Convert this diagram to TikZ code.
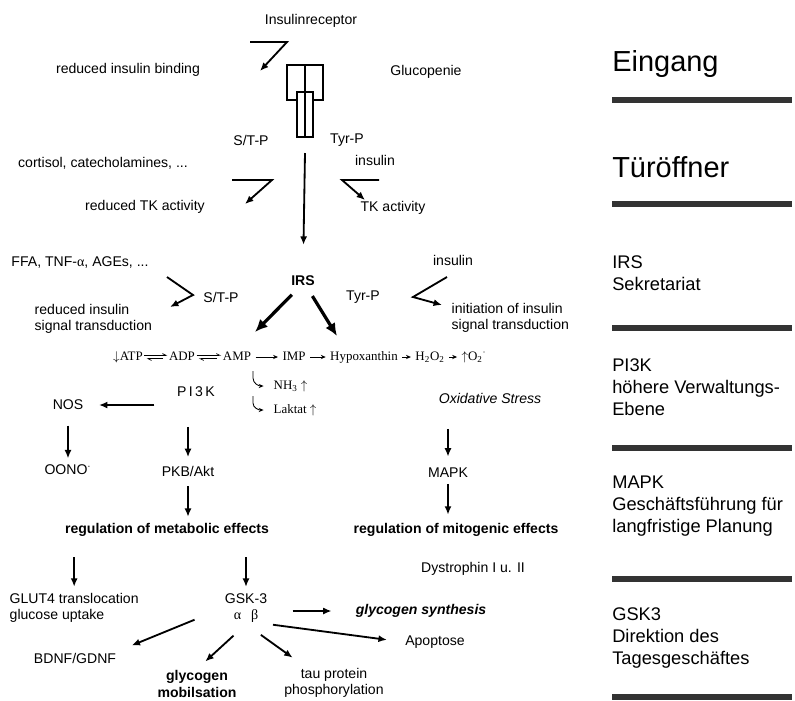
\documentclass[tikz,border=0pt]{standalone}
\usepackage{fontspec}
\setmainfont{Liberation Sans}
\newfontfamily\serifchem{Liberation Serif}
\usetikzlibrary{arrows.meta}
\begin{document}
\begin{tikzpicture}[x=0.025cm,y=-0.025cm,>={Latex[length=6pt,width=5pt]},
  lbl/.style={inner sep=1pt,font=\fontsize{10}{11.5}\selectfont},
  blbl/.style={inner sep=1pt,font=\fontsize{10}{11.5}\selectfont\bfseries},
  chem/.style={inner sep=1pt,text height=6.5pt,text depth=1.5pt,font=\serifchem\fontsize{9.2}{11}\selectfont},
  level/.style={anchor=base west,inner sep=0pt,font=\fontsize{20.6}{24}\selectfont},
  task/.style={anchor=base west,inner sep=0pt,align=left,font=\fontsize{13}{15.6}\selectfont},
  bar/.style={line width=4.6pt,draw=black!80},
  arr/.style={->,line width=1.3pt},
  fat/.style={-{Latex[length=9pt,width=8pt]},line width=2.3pt},
  rxn/.style={-{Stealth[length=3.5pt,width=3pt]},line width=0.6pt},
  harp/.style={-{Straight Barb[left,length=2.5pt,width=2.5pt]},line width=0.5pt}]
\useasboundingbox (0,0) rectangle (795,700);
% levels on the right (base = last line)
\node[level] (eing) at (612,71) {Eingang};
\node[level] (tuer) at (612,177) {Türöffner};
\node[task] (sekr) at (612,290) {IRS\\Sekretariat};
\node[task] (verw) at (612,415) {PI3K\\höhere Verwaltungs-\\Ebene};
\node[task] (gesch) at (612,532) {MAPK\\Geschäftsführung für\\langfristige Planung};
\node[task] (dir) at (612,664) {GSK3\\Direktion des\\Tagesgeschäftes};
\foreach \y in {100,204,328,448,579,697} \draw[bar] (612,\y) -- (792,\y);
% receptor
\node[lbl] (rec) at (311,21) {Insulinreceptor};
\draw[line width=1.4pt] (297,100) -| (287,65) -| (323,100) -- (313,100)
  (297,92) rectangle (313,137) (305,65) -- (305,137);
\coordinate (recout) at (305,153);
\node[lbl] (rib) at (128,70) {reduced insulin binding};
\node[lbl] (gluc) at (426,72) {Glucopenie};
\draw[arr] (250,42) -- (287,42) -- (260,71);
\node[lbl] (stp1) at (251,140) {S/T-P};
\node[lbl] (tyr1) at (347,140) {Tyr-P};
\node[lbl] (cort) at (103,163) {cortisol, catecholamines, ...};
\node[lbl] (ins1) at (375,160) {insulin};
\draw[arr] (232,180) -- (272,180) -- (245,204);
\draw[arr] (379,180) -- (342,180) -- (365,200);
\node[lbl] (rtk) at (145,207) {reduced TK activity};
\node[lbl] (tk) at (393,208) {TK activity};
% IRS
\node[blbl] (irs) at (303,281) {IRS};
\draw[arr,shorten >=21pt] (recout) -- (irs.north);
\node[lbl] (ffa) at (80,262) {FFA, TNF-{\serifchem α}, AGEs, ...};
\draw[arr] (167,277) -- (193,295) -- (170,307);
\node[lbl] (stp2) at (221,297) {S/T-P};
\node[lbl,align=left,anchor=west] (risd) at (33,319) {reduced insulin\\signal transduction};
\node[lbl] (tyr2) at (363,297) {Tyr-P};
\node[lbl] (ins2) at (453,260) {insulin};
\draw[arr] (447,277) -- (413,297) -- (442,305);
\node[lbl,align=left,anchor=west] (iisd) at (450,318) {initiation of insulin\\signal transduction};
\coordinate (fl) at (255,332);
\coordinate (fr) at (337,336);
\draw[fat,shorten <=7pt] ([xshift=-3pt]irs.south) -- (fl);
\draw[fat,shorten <=7pt] ([xshift=3pt]irs.south) -- (fr);
% energy metabolism
\node[chem] (atp) at (128,357) {$\downarrow$ATP};
\node[chem] (adp) at (182,357) {ADP};
\node[chem] (amp) at (237,357) {AMP};
\node[chem] (imp) at (294,357) {IMP};
\node[chem] (hyp) at (364,357) {Hypoxanthin};
\node[chem] (hoo) at (430,357) {H\textsubscript{2}O\textsubscript{2}};
\node[chem] (oxy) at (474,357) {$\uparrow$O\textsubscript{2}\textsuperscript{·}};
\foreach \a/\b in {atp/adp,adp/amp}{
  \draw[harp] ([yshift=1.2pt]\a.east) -- ([yshift=1.2pt]\b.west);
  \draw[harp,shorten >=1.5pt,shorten <=3pt] ([yshift=-1.2pt]\b.west) -- ([yshift=-1.2pt]\a.east);}
\foreach \a/\b in {amp/imp,imp/hyp,hyp/hoo,hoo/oxy} \draw[rxn,shorten <=2pt,shorten >=2pt] (\a) -- (\b);
\node[chem,anchor=west] (nh3) at (272,386) {NH\textsubscript{3} $\uparrow$};
\node[chem,anchor=west] (lak) at (272,410) {Laktat $\uparrow$};
\coordinate (hk1) at (253,371);
\coordinate (hk2) at (253,396);
\draw[rxn] (hk1) -- ++(0,7) to[out=-90,in=180] ([xshift=-6pt]nh3.west);
\draw[rxn] (hk2) -- ++(0,7) to[out=-90,in=180] ([xshift=-6pt]lak.west);
% PI3K branch
\node[lbl] (pi3k) at (196,392) {P\,I\,3\,K};
\node[lbl] (nos) at (68,405) {NOS};
\node[lbl] (oono) at (68,470) {OONO\textsuperscript{·}};
\node[lbl] (pkb) at (188,471) {PKB/Akt};
\node[blbl] (regmet) at (167,530) {regulation of metabolic effects};
\draw[arr,shorten <=15pt,shorten >=10pt] (nos -| pi3k.west) -- (nos.east);
\draw[arr,shorten <=10pt,shorten >=3.5pt] (nos.south) -- (oono.north);
\draw[arr,shorten <=20pt,shorten >=5pt] (pi3k.south -| pkb.north) -- (pkb.north);
\draw[arr,shorten <=6pt,shorten >=3.5pt] (pkb.south) -- (pkb.south |- regmet.north);
% oxidative stress branch
\node[lbl,font=\fontsize{10}{11.5}\selectfont\itshape] (oxs) at (490,398) {Oxidative Stress};
\node[lbl] (mapk) at (448,473) {MAPK};
\node[blbl] (regmit) at (456,530) {regulation of mitogenic effects};
\node[lbl] (dys) at (473,569) {Dystrophin I u. II};
\draw[arr,shorten <=17pt,shorten >=7pt] (oxs.south -| mapk.north) -- (mapk.north);
\draw[arr,shorten <=3pt,shorten >=5pt] (mapk.south) -- (mapk.south |- regmit.north);
% GSK-3
\node[lbl,align=left,anchor=west] (glut) at (8,608) {GLUT4 translocation\\glucose uptake};
\node[lbl,align=center] (gsk) at (246,608) {GSK-3\\{\serifchem α\hspace{7pt}β}};
\draw[arr,shorten <=13.5pt,shorten >=3.5pt] (regmet.south -| glut.north) -- (glut.north);
\draw[arr,shorten <=13.5pt,shorten >=3.5pt] (regmet.south -| gsk.north) -- (gsk.north);
\node[lbl,font=\fontsize{10}{11.5}\selectfont\bfseries\itshape] (glysyn) at (421,611) {glycogen synthesis};
\node[lbl] (apo) at (435,642) {Apoptose};
\node[lbl] (bdnf) at (75,658) {BDNF/GDNF};
\node[blbl,align=center] (mobil) at (197,684) {glycogen\\mobilsation};
\node[lbl,align=center] (tau) at (334,683) {tau protein\\phosphorylation};
\draw[arr,shorten <=17pt,shorten >=16pt] (gsk.east |- glysyn.west) -- (glysyn.west);
\draw[arr,shorten <=3pt,shorten >=12pt] (gsk.south east) -- (apo.west);
\draw[arr,shorten <=22pt,shorten >=10.7pt] (gsk.west) -- (bdnf.north east);
\draw[arr,shorten <=12pt,shorten >=8pt] (gsk.south) -- (mobil.north);
\draw[arr,shorten <=13pt,shorten >=11pt] (gsk.south) -- ([xshift=16pt]tau.north west);
\end{tikzpicture}
\end{document}
